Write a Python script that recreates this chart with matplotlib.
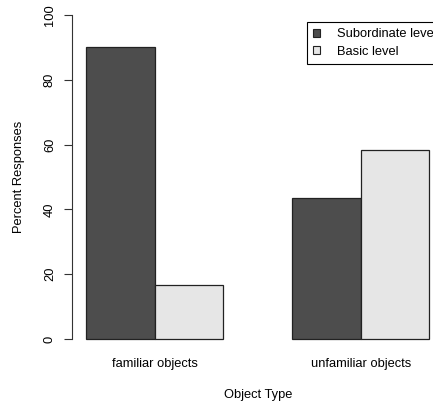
import matplotlib
matplotlib.use("Agg")
import matplotlib.pyplot as plt
import matplotlib.transforms as mtransforms
from matplotlib.patches import Patch

plt.rcParams['font.family'] = ['Liberation Sans', 'DejaVu Sans']

# percent of responses per object type and naming level
categories = ['familiar objects', 'unfamiliar objects']
levels = ['Subordinate level', 'Basic level']
subordinate = [90.2, 43.4]
basic = [16.7, 58.3]
level_colors = ['#4d4d4d', '#e6e6e6']

FS = 9.3
W, H = 433, 405
fig = plt.figure(figsize=(W / 100, H / 100), dpi=100)
ax = fig.add_axes([72.3 / W, (H - 352) / H, (443.2 - 72.3) / W, 350 / H])

# grouped bars, width 1, one empty slot before each group
for i, vals in enumerate([subordinate, basic]):
    xs = [g * 3 + 1 + i for g in range(len(categories))]
    ax.bar(xs, vals, width=1, align='edge', color=level_colors[i],
           edgecolor='#222222', linewidth=0.9)

ax.set_xlim(0.8, 6.2)
ax.set_ylim(-4, 104)

for s in ['top', 'right', 'bottom']:
    ax.spines[s].set_visible(False)
ax.spines['left'].set_bounds(0, 100)
ax.spines['left'].set_color('#333333')
ax.set_yticks([0, 20, 40, 60, 80, 100])
ax.tick_params(axis='y', length=5.8, pad=6.0, labelsize=FS, rotation=90, color='#333333')
for t in ax.get_yticklabels():
    t.set_va('center')
ax.set_xticks([])

# group labels under each pair
trans = mtransforms.blended_transform_factory(ax.transData, fig.transFigure)
for g, name in enumerate(categories):
    ax.text(g * 3 + 2, (H - 366.5) / H, name, ha='center', va='baseline',
            fontsize=FS, transform=trans)

fig.text(257.7 / W, (H - 395) / H, 'Object Type', ha='center', va='center', fontsize=FS)
fig.text(19 / W, (H - 177) / H, 'Percent Responses', ha='center', va='center',
         rotation=90, fontsize=FS)

handles = [Patch(facecolor=c, edgecolor='#222222', linewidth=0.8) for c in level_colors]
leg = fig.legend(handles, levels, loc='upper left', bbox_to_anchor=(307 / W, 1 - 22 / H),
                 borderaxespad=0, fontsize=FS, fancybox=False, framealpha=1,
                 edgecolor='black', handlelength=0.5, handleheight=0.5,
                 handletextpad=1.3, labelspacing=0.4, borderpad=0.5)
leg.get_frame().set_linewidth(0.8)

fig.savefig('out.png', dpi=100)
